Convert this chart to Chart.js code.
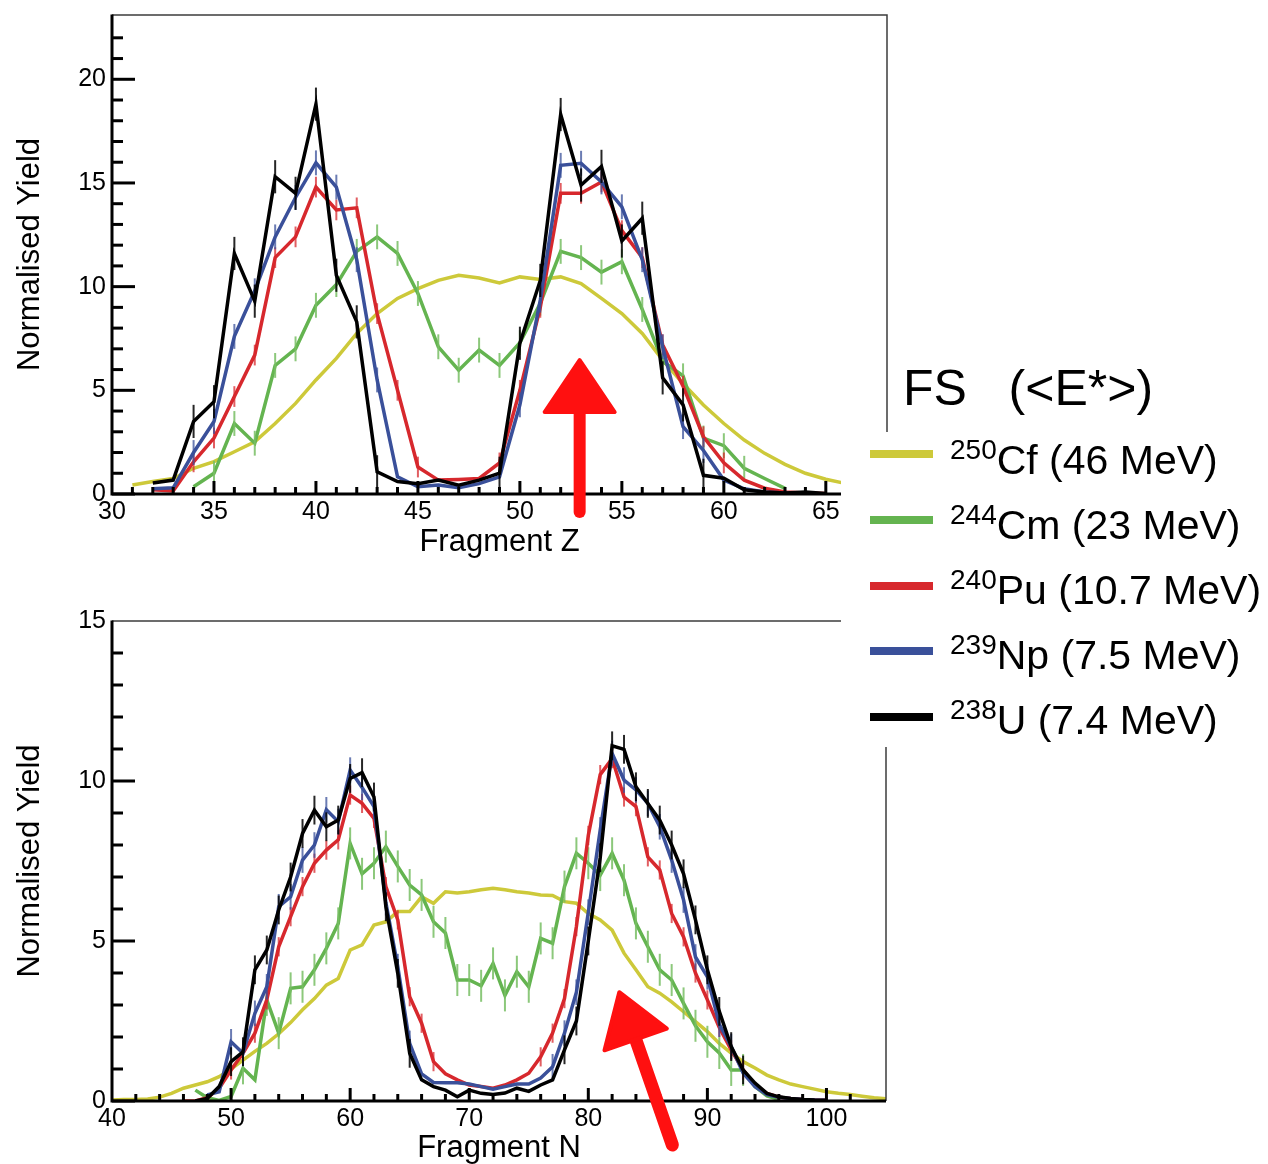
<!DOCTYPE html>
<html>
<head>
<meta charset="utf-8">
<script src="https://cdn.jsdelivr.net/npm/chart.js@4.4.1/dist/chart.umd.min.js"></script>
<style>
html,body{margin:0;padding:0;background:#fff;overflow:hidden;width:1268px;height:1164px;}
body{position:relative;font-family:"Liberation Sans",Arial,sans-serif;color:#000;}
#c1{position:absolute;left:0;top:-10px;}
#c2{position:absolute;left:0;top:599px;}
#legendBox{position:absolute;left:841px;top:432px;width:427px;height:315px;background:#fff;z-index:2;}
#legendTitle{position:absolute;left:903px;top:363px;font-size:50px;line-height:50px;white-space:pre;z-index:3;}
.row{position:absolute;left:950px;font-size:41px;line-height:41px;white-space:pre;z-index:3;}
.row .sup{font-size:28px;vertical-align:15px;}
.sw{position:absolute;left:870px;width:63px;height:8px;z-index:3;}
</style>
</head>
<body>
<canvas id="c1" width="900" height="580" style="width:900px;height:580px"></canvas>
<canvas id="c2" width="900" height="601" style="width:900px;height:601px"></canvas>
<div id="legendBox"></div>
<div id="legendTitle">FS   (&lt;E*&gt;)</div>
<div id="legendRows"></div>
<script>
// ---------- data: top panel (fragment Z) ----------
const fragZ = [31,32,33,34,35,36,37,38,39,40,41,42,43,44,45,46,47,48,49,50,51,52,53,54,55,56,57,58,59,60,61,62,63,64,65,66];
const cfZ = [0.43,0.6,0.75,1.24,1.56,2.04,2.52,3.4,4.37,5.5,6.54,7.74,8.7,9.43,9.9,10.3,10.55,10.42,10.18,10.47,10.35,10.47,10.15,9.43,8.7,7.74,6.46,5.33,4.29,3.4,2.6,1.96,1.43,1.0,0.71,0.5];
const cmZ = [null,null,null,0.35,1.0,3.4,2.45,6.2,7.0,9.1,10.1,11.7,12.4,11.6,9.67,7.1,5.97,6.94,6.2,7.3,9.2,11.7,11.4,10.7,11.2,8.9,6.4,5.7,2.7,2.33,1.24,0.75,0.27,null,null,null];
const puZ = [null,0.2,0.15,1.55,2.7,4.7,6.7,11.4,12.4,14.8,13.7,13.8,8.7,5.0,1.3,0.67,0.7,0.75,1.5,5.0,9.0,14.5,14.5,15.05,12.7,11.4,7.2,5.2,2.76,1.5,0.67,0.28,0.1,0.05,0.02,null];
const npZ = [null,0.25,0.3,2.0,3.5,7.6,9.8,12.4,14.3,15.97,14.8,11.3,5.5,0.83,0.35,0.43,0.3,0.5,0.83,4.3,9.35,15.85,15.95,15.05,13.85,11.3,7.1,3.25,2.1,0.67,0.25,0.1,0.05,0.02,null,null];
const uZ  = [null,0.53,0.67,3.5,4.45,11.6,9.3,15.3,14.5,18.8,10.55,8.3,1.07,0.6,0.5,0.67,0.43,0.67,1.0,7.27,10.3,18.3,14.9,15.8,12.2,13.3,5.6,4.3,0.9,0.76,0.2,0.1,0.05,0.1,0.02,null];
// error bar half-lengths (per series) for the top panel
const errZ = {cf:0, cm:0.6, pu:0.5, np:0.6, u:0.8};

// ---------- data: bottom panel (fragment N) ----------
const fragN = [40,41,42,43,44,45,46,47,48,49,50,51,52,53,54,55,56,57,58,59,60,61,62,63,64,65,66,67,68,69,70,71,72,73,74,75,76,77,78,79,80,81,82,83,84,85,86,87,88,89,90,91,92,93,94,95,96,97,98,99,100,101,102,103,104,105];
const cfN = [0.03,0.05,0.05,0.06,0.12,0.24,0.4,0.5,0.6,0.76,1.0,1.28,1.55,1.8,2.1,2.45,2.85,3.2,3.62,3.83,4.72,4.88,5.5,5.6,5.92,5.92,6.38,6.18,6.54,6.5,6.54,6.6,6.65,6.6,6.54,6.5,6.44,6.42,6.23,6.18,5.86,5.66,5.34,4.62,4.1,3.57,3.37,3.1,2.79,2.48,2.17,1.8,1.5,1.23,1.03,0.81,0.66,0.53,0.45,0.37,0.29,0.24,0.2,0.15,0.1,0.07];
const cmN = [null,null,null,null,null,null,null,0.34,0.1,0.02,0.14,1.02,0.66,3.16,2.12,3.52,3.57,4.1,4.77,5.55,8.05,7.1,7.43,7.95,7.33,6.75,6.44,5.6,5.25,3.78,3.78,3.6,4.3,3.3,4.04,3.57,5.08,4.93,6.7,7.74,7.43,7.06,7.74,6.9,5.55,4.82,4.1,3.78,3.05,2.35,1.85,1.5,0.97,0.97,0.45,0.16,0.05,null,null,null,null,null,null,null,null,null];
const puN = [null,null,null,null,null,null,0.0,0.0,0.1,0.4,0.97,1.49,2.12,3.16,4.82,5.76,6.7,7.43,7.84,8.16,9.56,9.3,8.83,6.7,5.66,3.26,2.43,1.23,0.85,0.66,0.5,0.45,0.4,0.5,0.66,0.87,1.38,2.12,3.2,5.45,8.3,10.2,10.7,9.5,9.2,7.63,7.22,5.86,5.13,4.0,3.16,2.3,1.6,0.97,0.5,0.24,0.12,0.08,0.05,0.03,0.02,null,null,null,null,null];
const npN = [null,null,null,null,null,null,null,null,0.19,0.29,1.85,1.49,2.74,3.57,6.07,6.38,7.53,8.0,9.1,8.73,10.34,9.8,9.2,6.2,4.2,1.8,0.85,0.58,0.57,0.57,0.53,0.45,0.37,0.45,0.53,0.53,0.72,1.07,2.12,3.4,5.9,8.47,10.86,10.03,9.72,9.3,8.57,7.53,6.28,4.5,3.88,2.4,1.7,0.87,0.45,0.2,0.12,0.08,0.05,0.03,0.02,null,null,null,null,null];
const uN  = [null,null,null,null,null,null,null,0.0,0.08,0.45,1.23,1.54,4.1,4.72,5.97,7.0,8.36,9.09,8.57,8.78,10.08,10.26,9.5,6.07,3.99,1.49,0.66,0.45,0.34,0.13,0.34,0.24,0.2,0.25,0.4,0.3,0.5,0.66,1.6,2.5,5.0,7.6,11.1,10.99,9.82,9.3,8.78,8.0,7.1,5.66,4.1,2.8,1.7,0.97,0.56,0.24,0.13,0.08,0.05,0.03,0.02,null,null,null,null,null];
const errN = {cf:0, cm:0.5, pu:0.3, np:0.4, u:0.45};

// ---------- tick labels / series names ----------
const yTicksTop = [0,5,10,15,20];
const xTicksTop = [30,35,40,45,50,55,60,65];
const yTicksBottom = [0,5,10,15];
const xTicksBottom = [40,50,60,70,80,90,100];
const seriesNames = [
  {key:'cf', mass:'250', el:'Cf', ex:'46 MeV'},
  {key:'cm', mass:'244', el:'Cm', ex:'23 MeV'},
  {key:'pu', mass:'240', el:'Pu', ex:'10.7 MeV'},
  {key:'np', mass:'239', el:'Np', ex:'7.5 MeV'},
  {key:'u',  mass:'238', el:'U',  ex:'7.4 MeV'}
];

// ---------- styles ----------
const COLORS = {cf:'#cdc93a', cm:'#64b450', pu:'#d7282d', np:'#3a509a', u:'#000000'};
const ERRCOLORS = {cf:'#cdc93a', cm:'rgba(120,190,100,0.85)', pu:'rgba(215,40,45,0.75)', np:'rgba(58,80,154,0.75)', u:'rgba(0,0,0,0.85)'};
const DRAW_ORDER = {cf:4, cm:3, pu:2, np:1, u:0};
const FONT = '"Liberation Sans", Arial, sans-serif';
Chart.defaults.font.family = FONT;
Chart.defaults.color = '#000';

function buildDatasets(xs, seriesMap, errs) {
  return seriesNames.map(s => ({
    label: s.el,
    data: xs.map((x, i) => ({x: x, y: seriesMap[s.key][i]})).filter(p => p.y !== null),
    borderColor: COLORS[s.key],
    backgroundColor: COLORS[s.key],
    borderWidth: 3.5,
    pointRadius: 0,
    tension: 0,
    fill: false,
    order: DRAW_ORDER[s.key],
    err: errs[s.key],
    errColor: ERRCOLORS[s.key]
  }));
}

// error bars drawn right after each dataset so layering follows the lines
const errorBarPlugin = {
  id: 'errorBars',
  afterDatasetDraw(chart, args) {
    const ds = chart.data.datasets[args.index];
    if (!ds.err) return;
    const ys = chart.scales.y, a = chart.chartArea, ctx = chart.ctx;
    ctx.save();
    ctx.beginPath(); ctx.rect(a.left, a.top, a.right - a.left, a.bottom - a.top); ctx.clip();
    ctx.strokeStyle = ds.errColor; ctx.lineWidth = 2;
    args.meta.data.forEach((el, i) => {
      const v = ds.data[i].y;
      if (v < 0.9) return;
      ctx.beginPath();
      ctx.moveTo(el.x, ys.getPixelForValue(v + ds.err));
      ctx.lineTo(el.x, ys.getPixelForValue(v - ds.err));
      ctx.stroke();
    });
    ctx.restore();
  }
};

// ROOT-style frame: thick left/bottom axes with inward ticks, thin top/right frame
const rootAxesPlugin = {
  id: 'rootAxes',
  afterDatasetsDraw(chart, args, o) {
    const {ctx, chartArea: a} = chart;
    const xs = chart.scales.x, ys = chart.scales.y;
    ctx.save();
    ctx.strokeStyle = '#3c3c3c'; ctx.lineWidth = 1.5;
    ctx.beginPath(); ctx.moveTo(a.left, a.top); ctx.lineTo(a.right, a.top); ctx.lineTo(a.right, a.bottom); ctx.stroke();
    ctx.strokeStyle = '#000'; ctx.lineWidth = 3; ctx.lineCap = 'butt';
    ctx.beginPath(); ctx.moveTo(a.left, a.top - 0.5); ctx.lineTo(a.left, a.bottom); ctx.lineTo(a.right, a.bottom); ctx.stroke();
    ys.ticks.forEach(t => {
      if (t.value > ys.max - 0.5 || t.value % 1 !== 0) return;
      const py = ys.getPixelForValue(t.value);
      const len = (t.value % o.yMajor === 0) ? 23 : 11;
      ctx.beginPath(); ctx.moveTo(a.left, py); ctx.lineTo(a.left + len, py); ctx.stroke();
    });
    xs.ticks.forEach(t => {
      if (t.value % o.xMinor !== 0 || t.value <= xs.min || t.value >= xs.max) return;
      const px = xs.getPixelForValue(t.value);
      const len = (t.value % o.xMajor === 0) ? 13 : 7;
      ctx.beginPath(); ctx.moveTo(px, a.bottom); ctx.lineTo(px, a.bottom - len); ctx.stroke();
    });
    ctx.restore();
  }
};

// hand-drawn style red arrows (annotation), positioned in data units
const arrowPlugin = {
  id: 'arrows',
  afterDraw(chart, args, o) {
    if (!o.list) return;
    const ctx = chart.ctx, xs = chart.scales.x, ys = chart.scales.y;
    o.list.forEach(ar => {
      const x0 = xs.getPixelForValue(ar.from[0]), y0 = ys.getPixelForValue(ar.from[1]);
      const x1 = xs.getPixelForValue(ar.to[0]),   y1 = ys.getPixelForValue(ar.to[1]);
      const dx = x1 - x0, dy = y1 - y0, L = Math.hypot(dx, dy);
      const ux = dx / L, uy = dy / L, nx = -uy, ny = ux;
      const bx = x1 - ux * ar.head, by = y1 - uy * ar.head;
      ctx.save();
      ctx.fillStyle = '#ff1010'; ctx.strokeStyle = '#ff1010';
      ctx.lineWidth = ar.shaft; ctx.lineCap = 'round';
      ctx.beginPath(); ctx.moveTo(x0, y0); ctx.lineTo(bx + ux * 4, by + uy * 4); ctx.stroke();
      ctx.lineJoin = 'round'; ctx.lineWidth = 4;
      ctx.beginPath();
      ctx.moveTo(x1, y1);
      ctx.lineTo(bx + nx * ar.half, by + ny * ar.half);
      ctx.lineTo(bx - nx * ar.half, by - ny * ar.half);
      ctx.closePath(); ctx.fill(); ctx.stroke();
      ctx.restore();
    });
  }
};

function makeChart(canvasId, cfg) {
  return new Chart(document.getElementById(canvasId), {
    type: 'line',
    data: {datasets: cfg.datasets},
    plugins: [errorBarPlugin, rootAxesPlugin, arrowPlugin],
    options: {
      responsive: false, animation: false, devicePixelRatio: 1,
      layout: {padding: cfg.padding},
      plugins: {
        legend: {display: false}, tooltip: {enabled: false},
        rootAxes: cfg.axes,
        arrows: {list: cfg.arrows}
      },
      scales: {
        x: {
          type: 'linear', min: cfg.xMin, max: cfg.xMax,
          grid: {display: false, drawTicks: false}, border: {display: false},
          ticks: {
            stepSize: cfg.axes.xMinor, autoSkip: false, maxRotation: 0, minRotation: 0,
            padding: 3, font: {size: 25}, color: '#000',
            callback: v => cfg.xLabels.includes(v) ? String(v) : ''
          },
          title: {display: true, text: cfg.xTitle, font: {size: 31}, color: '#000', padding: {top: 0, bottom: cfg.xTitlePad}},
          afterFit: s => { s.height = cfg.xHeight; }
        },
        y: {
          type: 'linear', min: 0, max: cfg.yMax,
          grid: {display: false, drawTicks: false}, border: {display: false},
          ticks: {
            stepSize: 1, autoSkip: false, padding: 6, font: {size: 25}, color: '#000',
            callback: v => cfg.yLabels.includes(v) ? String(v) : ''
          },
          title: {display: true, text: 'Normalised Yield', font: {size: 31}, color: '#000', padding: {top: 12, bottom: 0}},
          afterFit: s => { s.width = 112; }
        }
      }
    }
  });
}

makeChart('c1', {
  datasets: buildDatasets(fragZ, {cf: cfZ, cm: cmZ, pu: puZ, np: npZ, u: uZ}, errZ),
  padding: {left: 0, right: 13, top: 25, bottom: 0},
  xMin: 30, xMax: 68, yMax: 23.1,
  xLabels: xTicksTop, yLabels: yTicksTop,
  axes: {xMinor: 1, xMajor: 5, yMajor: 5},
  xTitle: 'Fragment Z', xTitlePad: 9, xHeight: 76,
  arrows: [{from: [52.93, -0.87], to: [52.93, 6.46], head: 52, half: 35, shaft: 12}]
});

makeChart('c2', {
  datasets: buildDatasets(fragN, {cf: cfN, cm: cmN, pu: puN, np: npN, u: uN}, errN),
  padding: {left: 0, right: 14, top: 22, bottom: 0},
  xMin: 40, xMax: 105, yMax: 15,
  xLabels: xTicksBottom, yLabels: yTicksBottom,
  axes: {xMinor: 2, xMajor: 10, yMajor: 5},
  xTitle: 'Fragment N', xTitlePad: 33, xHeight: 99,
  arrows: [{from: [87.06, -1.375], to: [82.6, 3.4], head: 50, half: 33, shaft: 13}]
});

// ---------- legend (HTML, with superscript mass numbers) ----------
const rowsEl = document.getElementById('legendRows');
seriesNames.forEach((s, i) => {
  const sw = document.createElement('div');
  sw.className = 'sw';
  sw.style.top = (450 + i * 65.75) + 'px';
  sw.style.background = COLORS[s.key];
  rowsEl.appendChild(sw);
  const row = document.createElement('div');
  row.className = 'row';
  row.style.top = (428.5 + i * 65) + 'px';
  row.innerHTML = '<span class="sup">' + s.mass + '</span>' + s.el + ' (' + s.ex + ')';
  rowsEl.appendChild(row);
});
</script>
</body>
</html>
